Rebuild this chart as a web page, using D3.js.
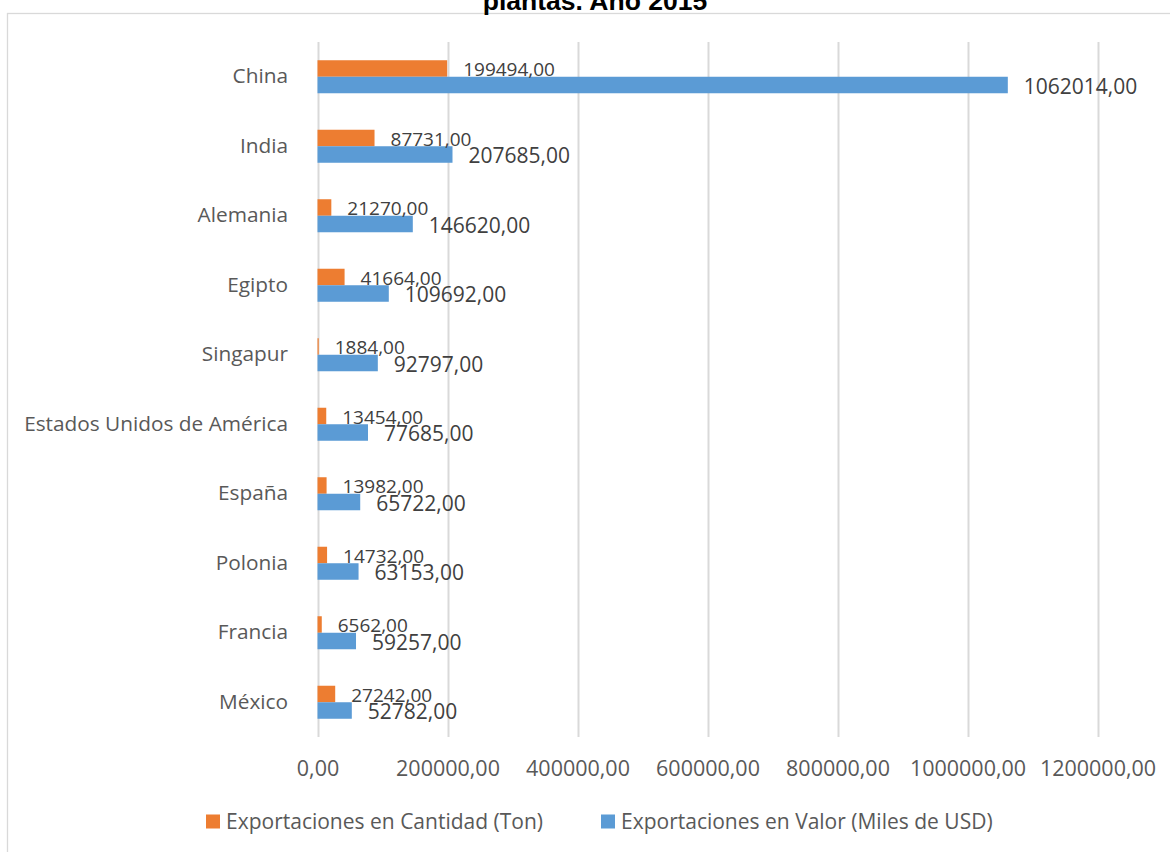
<!DOCTYPE html>
<html>
<head>
<meta charset="utf-8">
<script src="https://cdn.jsdelivr.net/npm/d3@7"></script>
<style>
  html, body { margin: 0; padding: 0; background: #fff; }
  svg { display: block; }
  text { font-family: "Open Sans", "Noto Sans", sans-serif; }
</style>
</head>
<body>
<svg id="chart" width="1170" height="852"></svg>
<script>
// Countries, top to bottom
const categories = ["China", "India", "Alemania", "Egipto", "Singapur",
  "Estados Unidos de América", "España", "Polonia", "Francia", "México"];
// Exports in quantity (tons)
const cantidad = [199494, 87731, 21270, 41664, 1884, 13454, 13982, 14732, 6562, 27242];
// Exports in value (thousands of USD)
const valor = [1062014, 207685, 146620, 109692, 92797, 77685, 65722, 63153, 59257, 52782];
const seriesNames = ["Exportaciones en Cantidad (Ton)", "Exportaciones en Valor (Miles de USD)"];
const seriesColors = ["#ED7D31", "#5B9BD5"];
const tickValues = [0, 200000, 400000, 600000, 800000, 1000000, 1200000];
const titleText = "plantas. Año 2015";

const svg = d3.select("#chart");
const fmt = v => v + ",00";

// chart frame
svg.append("rect")
  .attr("x", 7.5).attr("y", 13.5)
  .attr("width", 1200).attr("height", 900)
  .attr("fill", "#fff").attr("stroke", "#D9D9D9").attr("stroke-width", 1.3);

// title (only its last line shows above the frame)
svg.append("text")
  .attr("x", 595).attr("y", 10)
  .attr("text-anchor", "middle")
  .style("font-family", "'Liberation Sans', Arial, sans-serif")
  .style("font-weight", "bold").style("font-size", "26.5px")
  .attr("fill", "#000")
  .text(titleText);

const x = d3.scaleLinear().domain([0, 1200000]).range([317.5, 1097.5]);
const y = d3.scaleBand().domain(categories).range([42, 737])
  .paddingInner(0.525).paddingOuter(0.2625);
const sub = d3.scaleBand().domain([0, 1]).range([0, y.bandwidth()]);

// vertical gridlines
svg.append("g").selectAll("line").data(tickValues).join("line")
  .attr("x1", d => Math.round(x(d)) + 0.5).attr("x2", d => Math.round(x(d)) + 0.5)
  .attr("y1", 42).attr("y2", 737)
  .attr("stroke", "#D9D9D9").attr("stroke-width", 2);

// x axis tick labels
const xAxis = d3.axisBottom(x).tickValues(tickValues).tickFormat(fmt).tickSize(0).tickPadding(0);
const gx = svg.append("g").attr("transform", "translate(0,761)").call(xAxis);
gx.select(".domain").remove();
gx.selectAll("text").attr("fill", "#595959").style("font-size", "21.5px")
  .style("font-family", "'Open Sans', sans-serif");

// category labels
const yAxis = d3.axisLeft(y).tickSize(0).tickPadding(0);
const gy = svg.append("g").attr("transform", "translate(288,0)").call(yAxis);
gy.select(".domain").remove();
gy.selectAll("text").attr("fill", "#595959").style("font-size", "20.8px")
  .style("font-family", "'Open Sans', sans-serif");

// bars
const series = [cantidad, valor];
const rows = categories.map((c, i) => ({ c, vals: series.map(s => s[i]) }));
const groups = svg.append("g").selectAll("g").data(rows).join("g")
  .attr("transform", d => `translate(0,${y(d.c)})`);

groups.selectAll("rect").data(d => d.vals.map((v, k) => ({ v, k }))).join("rect")
  .attr("x", x(0))
  .attr("y", d => sub(d.k))
  .attr("width", d => x(d.v) - x(0))
  .attr("height", sub.bandwidth())
  .attr("fill", d => seriesColors[d.k]);

// value labels
groups.selectAll("text.val").data(d => d.vals.map((v, k) => ({ v, k }))).join("text")
  .attr("class", "val")
  .attr("x", d => x(d.v) + 16)
  .attr("y", d => sub(d.k) + sub.bandwidth() / 2 + 1)
  .attr("dy", "0.36em")
  .attr("fill", "#404040")
  .style("font-size", d => d.k === 0 ? "19px" : "21px")
  .text(d => fmt(d.v));

// legend
const legendX = [206, 601];
const lg = svg.append("g").selectAll("g").data(seriesNames).join("g")
  .attr("transform", (d, i) => `translate(${legendX[i]},821.5)`);
lg.append("rect").attr("x", 0).attr("y", -7).attr("width", 14).attr("height", 14)
  .attr("fill", (d, i) => seriesColors[i]);
lg.append("text").attr("x", 20).attr("y", 0).attr("dy", "0.35em")
  .attr("fill", "#595959").style("font-size", "21px")
  .text(d => d);
</script>
</body>
</html>
